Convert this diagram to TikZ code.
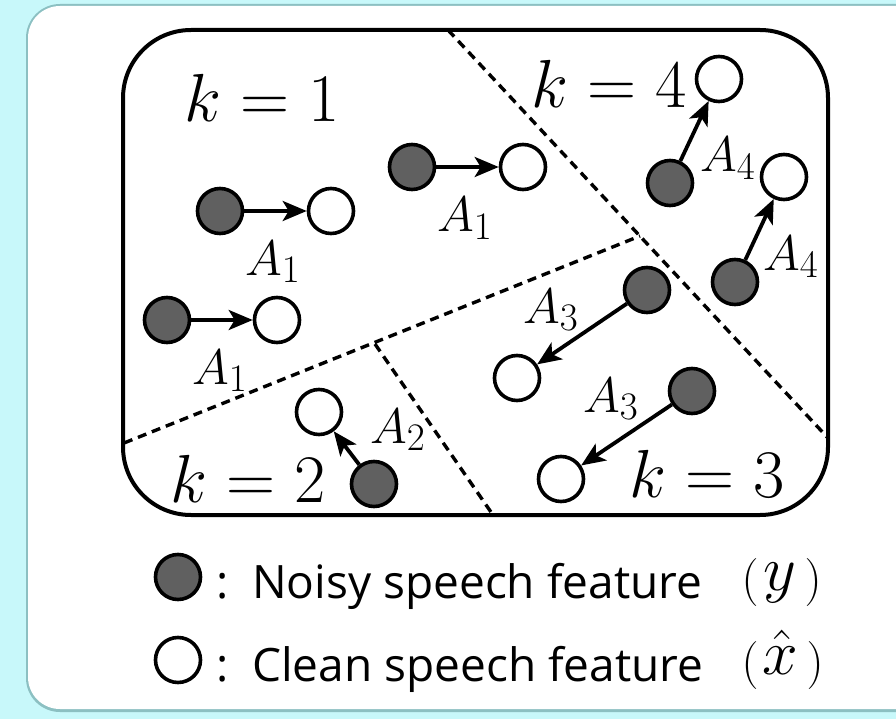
\documentclass[tikz,border=0pt]{standalone}
\usepackage{fix-cm}
\usepackage{fontspec}
\newfontfamily\legfont{Open Sans}
\usetikzlibrary{arrows.meta}
\DeclareMathSizes{68}{68}{48}{34}
\DeclareMathSizes{64}{64}{46}{32}
\DeclareMathSizes{50}{50}{39}{28}
\DeclareMathSizes{48}{48}{34}{24}
\definecolor{bgcyan}{RGB}{200,248,250}
\definecolor{shadowc}{RGB}{140,192,194}
\definecolor{dotgray}{RGB}{96,96,96}
\tikzset{
  noisy/.style={circle, draw, line width=3.6pt, fill=dotgray, minimum size=45pt, inner sep=0pt},
  clean/.style={circle, draw, line width=3.6pt, fill=white, minimum size=45pt, inner sep=0pt},
  arr/.style={line width=3.8pt, -{Stealth[length=24pt,width=20pt,inset=6pt]}},
  part/.style={line width=3.4pt, dash pattern=on 9pt off 6pt},
  klab/.style={anchor=base, inner sep=0pt, font=\fontsize{68}{72}\selectfont},
  alab/.style={anchor=base west, inner sep=0pt, font=\fontsize{50}{54}\selectfont},
  legtext/.style={anchor=base west, inner sep=0pt, font=\legfont\fontsize{46}{50}\selectfont},
  paren/.style={anchor=base, inner sep=0pt, font=\fontsize{48}{50}\selectfont},
  legmath/.style={anchor=base, inner sep=0pt, font=\fontsize{64}{66}\selectfont},
}
\begin{document}
\begin{tikzpicture}[x=1pt,y=-1pt]
\useasboundingbox (0,0) rectangle (896,719);
\clip (0,0) rectangle (896,719);
% background and card
\fill[bgcyan] (0,0) rectangle (896,719);
\fill[shadowc, rounded corners=34pt] (26,4) rectangle (940,712);
\fill[white, rounded corners=32pt] (28,6) rectangle (940,709);
% region box
\draw[line width=4pt, rounded corners=68pt] (123,30) rectangle (828,515);
% partition lines
\coordinate (d1a) at (448,30);
\coordinate (d1b) at (828,438);
\coordinate (d2a) at (124,443);
\coordinate (d2b) at (640,236);
\coordinate (d3a) at (375,344);
\coordinate (d3b) at (493,515);
\draw[part] (d1a) -- (d1b);
\draw[part] (d2a) -- (d2b);
\draw[part] (d3a) -- (d3b);
% k = 1
\node[noisy] (n1) at (220,211) {};
\node[clean] (c1) at (331,211) {};
\node[noisy] (n2) at (167,320) {};
\node[clean] (c2) at (277,320) {};
\node[noisy] (n3) at (412,167) {};
\node[clean] (c3) at (523,167) {};
% k = 4
\node[noisy] (n4) at (670,183) {};
\node[clean] (c4) at (719,79) {};
\node[noisy] (n5) at (735,282) {};
\node[clean] (c5) at (784,177) {};
% k = 3
\node[noisy] (n6) at (647,290) {};
\node[clean] (c6) at (517,378) {};
\node[noisy] (n7) at (692,391) {};
\node[clean] (c7) at (561,479) {};
% k = 2
\node[noisy] (n8) at (374,484) {};
\node[clean] (c8) at (319,412) {};
% arrows
\draw[arr] (n1) -- (c1);
\draw[arr] (n2) -- (c2);
\draw[arr] (n3) -- (c3);
\draw[arr] (n4) -- (c4);
\draw[arr] (n5) -- (c5);
\draw[arr] (n6) -- (c6);
\draw[arr] (n7) -- (c7);
\draw[arr] (n8) -- (c8);
% region labels
\node[klab] (k1) at (262,122) {$k=1$};
\node[klab] (k4) at (609,108) {$k=4$};
\node[klab] (k2) at (248,502) {$k=2$};
\node[klab] (k3) at (707,497) {$k=3$};
% transform labels
\node[alab] (a1) at (245,275) {$A_1$};
\node[alab] (a2) at (192,384) {$A_1$};
\node[alab] (a3) at (437,232) {$A_1$};
\node[alab] (a4) at (700,172) {$A_4$};
\node[alab] (a5) at (763,270) {$A_4$};
\node[alab] (a6) at (523,323) {$A_3$};
\node[alab] (a7) at (583,412) {$A_3$};
\node[alab] (a8) at (370,443) {$A_2$};
% legend
\node[noisy] (ln) at (178,577) {};
\node[clean] (lc) at (178,660) {};
\node[anchor=base, inner sep=0pt, font=\legfont\fontsize{46}{50}\selectfont] (col1) at (223,598) {:};
\node[anchor=base, inner sep=0pt, font=\legfont\fontsize{46}{50}\selectfont] (col2) at (223,681) {:};
\node[legtext] (t1) at (252,598) {Noisy speech feature};
\node[legtext] (t2) at (252,681) {Clean speech feature};
\node[paren] (lp1) at (750,594) {$($};
\node[legmath] (my) at (780,590) {$y$};
\node[paren] (rp1) at (813,594) {$)$};
\node[paren] (lp2) at (750,677) {$($};
\node[legmath] (mx) at (780,674) {$\hat{x}$};
\node[paren] (rp2) at (815,677) {$)$};
\end{tikzpicture}
\end{document}
